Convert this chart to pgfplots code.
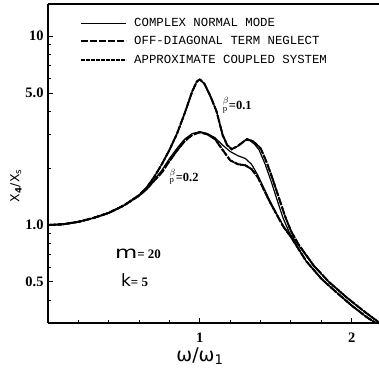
\documentclass[border=0pt]{standalone}
\usepackage{fontspec}
\setmainfont{Liberation Serif}
\newfontfamily\mono{Liberation Mono}
\newfontfamily\dv{DejaVu Sans}
\usepackage{pgfplots}
\pgfplotsset{compat=1.18}
\begin{document}
\begin{tikzpicture}
\begin{axis}[
  scale only axis, width=331bp, height=319bp,
  xmin=0, xmax=2.18, ymode=log, ymin=0.303, ymax=14.8,
  axis x line*=box, axis y line*=left, axis line style={-, line width=1.1pt},
  xtick pos=bottom, ytick pos=left,
  tick align=inside,
  major tick length=5bp, minor tick length=3bp,
  every tick/.style={black, line width=0.9pt},
  xtick={1,2}, xticklabels={1,2},
  minor xtick={0.2,0.4,0.6,0.8,1.2,1.4,1.6,1.8},
  ytick={0.5,1,5,10}, yticklabels={0.5,1.0,5.0,10},
  minor ytick={0.4,0.6,0.7,0.8,0.9,2,3,4,6,7,8,9},
  /pgf/number format/assume math mode=true,
  tick label style={font=\bfseries\fontsize{14.5}{14.5}\selectfont},
  xticklabel style={yshift=-6bp},
  yticklabel style={xshift=-1bp},
  xlabel={\dv\fontsize{19}{19}\selectfont ω/ω\textsubscript{1}},
  ylabel={\dv\fontsize{12.5}{12.5}\selectfont X\textsubscript{\bfseries 4}/X\textsubscript{s}},
  xlabel style={at={(axis description cs:0.459,0)}, anchor=center, yshift=-33bp},
  ylabel style={at={(axis description cs:-0.097,0.43)}, anchor=center},
  legend style={draw=none, fill=none, at={(axis description cs:0.097,0.962)}, anchor=north west,
    font=\mono\fontsize{12.4}{12.4}\selectfont, row sep=4.5bp, column sep=5bp, inner sep=0pt},
  legend cell align=left,
  legend image code/.code={\draw[#1] (0bp,0bp) -- (45bp,0bp);},
  clip=true,
]
% beta = 0.1, complex normal mode
\addplot[black, line width=1.2pt] coordinates {
(0,1.0)(0.1,1.01)(0.2,1.04)(0.3,1.09)(0.4,1.16)(0.5,1.27)(0.6,1.44)(0.65,1.58)
(0.7,1.80)(0.75,2.1)(0.8,2.5)(0.85,3.05)(0.9,3.9)(0.95,5.1)(0.98,5.75)(1.0,5.9)
(1.03,5.6)(1.07,4.8)(1.11,4.0)(1.15,3.0)(1.18,2.65)(1.21,2.52)(1.25,2.62)(1.30,2.82)
(1.33,2.80)(1.36,2.68)(1.39,2.5)(1.43,2.1)(1.47,1.7)(1.51,1.35)(1.55,1.08)(1.59,0.91)
(1.65,0.78)(1.75,0.61)(1.85,0.50)(1.965,0.415)(2.08,0.35)(2.18,0.305)};
\addlegendentry{COMPLEX NORMAL MODE}
% beta = 0.1, off-diagonal neglect
\addplot[black, line width=1.9pt, dash pattern=on 7bp off 2bp] coordinates {
(0,1.0)(0.1,1.01)(0.2,1.04)(0.3,1.09)(0.4,1.16)(0.5,1.27)(0.6,1.44)(0.65,1.58)
(0.7,1.80)(0.75,2.1)(0.8,2.5)(0.85,3.05)(0.9,3.9)(0.95,5.1)(0.98,5.75)(1.0,5.9)
(1.03,5.6)(1.07,4.8)(1.11,4.0)(1.15,3.0)(1.18,2.65)(1.21,2.52)(1.25,2.62)(1.31,2.85)
(1.35,2.78)(1.40,2.55)(1.44,2.15)(1.48,1.75)(1.52,1.4)(1.56,1.12)(1.60,0.93)
(1.65,0.79)(1.75,0.61)(1.85,0.50)(1.965,0.415)(2.08,0.35)(2.18,0.305)};
\addlegendentry{OFF-DIAGONAL TERM NEGLECT}
% beta = 0.1, approximate coupled system
\addplot[black, line width=1.9pt, dash pattern=on 3.5bp off 1.5bp] coordinates {
(0,1.0)(0.1,1.01)(0.2,1.04)(0.3,1.09)(0.4,1.16)(0.5,1.27)(0.6,1.44)(0.65,1.58)
(0.7,1.80)(0.75,2.1)(0.8,2.5)(0.85,3.05)(0.9,3.9)(0.95,5.1)(0.98,5.75)(1.0,5.9)
(1.03,5.6)(1.07,4.8)(1.11,4.0)(1.15,3.0)(1.18,2.65)(1.21,2.52)(1.25,2.62)(1.31,2.85)
(1.35,2.78)(1.40,2.55)(1.44,2.15)(1.48,1.75)(1.52,1.4)(1.56,1.12)(1.60,0.93)
(1.65,0.79)(1.75,0.61)(1.85,0.50)(1.965,0.415)(2.08,0.35)(2.18,0.305)};
\addlegendentry{APPROXIMATE COUPLED SYSTEM}
% beta = 0.2, complex normal mode
\addplot[black, line width=1.2pt, forget plot] coordinates {
(0,1.0)(0.1,1.01)(0.2,1.04)(0.3,1.09)(0.4,1.16)(0.5,1.27)(0.6,1.43)(0.65,1.56)
(0.7,1.74)(0.75,1.95)(0.8,2.25)(0.85,2.55)(0.9,2.85)(0.95,3.05)(1.0,3.12)(1.05,3.05)
(1.1,2.9)(1.15,2.65)(1.2,2.45)(1.25,2.33)(1.3,2.25)(1.34,2.1)(1.38,1.85)(1.42,1.58)
(1.46,1.35)(1.5,1.17)(1.55,0.99)(1.6,0.87)(1.7,0.645)(1.8,0.52)(1.9,0.44)(2.0,0.375)
(2.1,0.325)(2.18,0.295)};
% beta = 0.2, off-diagonal neglect
\addplot[black, line width=1.9pt, dash pattern=on 7bp off 2bp, forget plot] coordinates {
(0,1.0)(0.1,1.01)(0.2,1.04)(0.3,1.09)(0.4,1.16)(0.5,1.27)(0.6,1.43)(0.65,1.55)
(0.7,1.72)(0.75,1.9)(0.8,2.18)(0.85,2.48)(0.9,2.78)(0.95,3.0)(1.0,3.1)(1.05,3.02)
(1.1,2.85)(1.15,2.5)(1.2,2.2)(1.25,2.1)(1.3,2.07)(1.34,1.98)(1.38,1.8)(1.42,1.55)
(1.46,1.33)(1.5,1.16)(1.55,0.98)(1.6,0.865)(1.7,0.645)(1.8,0.52)(1.9,0.44)(2.0,0.375)
(2.1,0.325)(2.18,0.295)};
% beta = 0.2, approximate coupled system
\addplot[black, line width=1.9pt, dash pattern=on 3.5bp off 1.5bp, forget plot] coordinates {
(0,1.0)(0.1,1.01)(0.2,1.04)(0.3,1.09)(0.4,1.16)(0.5,1.27)(0.6,1.43)(0.65,1.55)
(0.7,1.72)(0.75,1.9)(0.8,2.18)(0.85,2.48)(0.9,2.78)(0.95,3.0)(1.0,3.1)(1.05,3.02)
(1.1,2.85)(1.15,2.5)(1.2,2.2)(1.25,2.1)(1.3,2.07)(1.34,1.98)(1.38,1.8)(1.42,1.55)
(1.46,1.33)(1.5,1.16)(1.55,0.98)(1.6,0.865)(1.7,0.645)(1.8,0.52)(1.9,0.44)(2.0,0.375)
(2.1,0.325)(2.18,0.295)};
\node[anchor=west, inner sep=0pt, font=\fontsize{12.5}{12.5}\selectfont] at (axis cs:1.15,4.3) {$^{\beta}_{\mathrm{p}}$\textbf{=0.1}};
\node[anchor=west, inner sep=0pt, font=\fontsize{12.5}{12.5}\selectfont] at (axis cs:0.8,1.8) {$^{\beta}_{\mathrm{p}}$\textbf{=0.2}};
\node[anchor=west, inner sep=0pt] at (axis cs:0.44,0.70) {{\dv\fontsize{17}{17}\selectfont\scalebox{1.35}[1]{m}}\textbf{\fontsize{13}{13}\selectfont = 20}};
\node[anchor=west, inner sep=0pt] at (axis cs:0.48,0.51) {{\dv\fontsize{17}{17}\selectfont k}\textbf{\fontsize{13}{13}\selectfont = 5}};
\end{axis}
\pgfresetboundingbox
\path (current axis.south west) +(-48bp,-50bp) (current axis.north east) +(0bp,4bp);
\end{tikzpicture}
\end{document}
